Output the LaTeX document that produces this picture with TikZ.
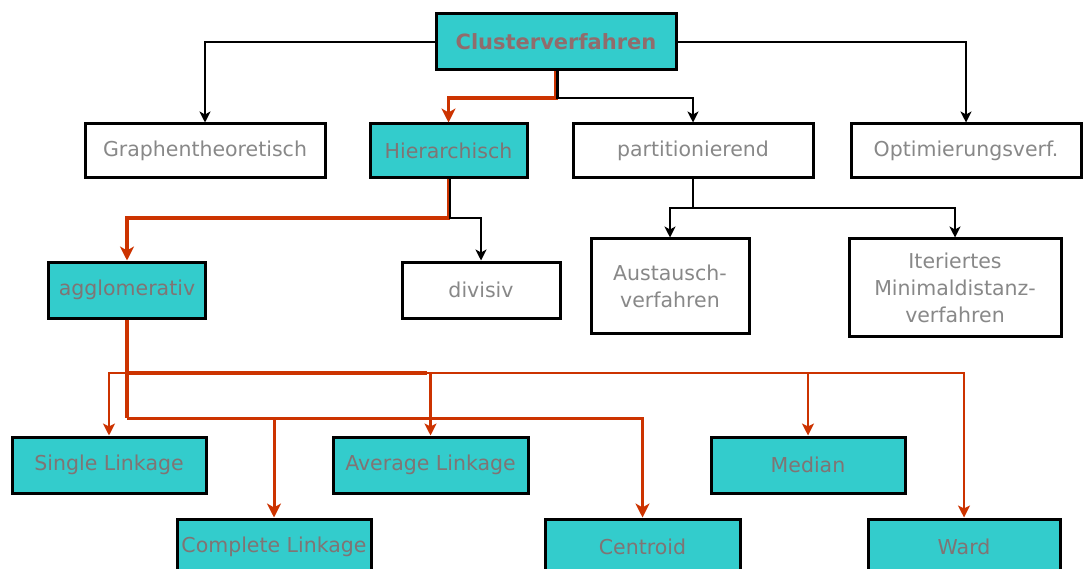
\documentclass[tikz,border=0pt]{standalone}
\usepackage{fontspec}
\setmainfont{DejaVu Sans}
\usetikzlibrary{arrows.meta}
\definecolor{boxcyan}{RGB}{51,204,204}
\definecolor{linered}{RGB}{204,51,0}
\definecolor{txtcyan}{RGB}{128,116,116}
\definecolor{txtwhite}{RGB}{136,136,136}
\definecolor{txtclu}{RGB}{145,108,108}
\begin{document}
\begin{tikzpicture}[x=1pt,y=-1pt,
  basebox/.style={draw=black,line width=3pt,rectangle,inner sep=0pt,
    font=\fontsize{20.5}{27}\selectfont,align=center},
  cybox/.style={basebox,fill=boxcyan,text=txtcyan},
  whbox/.style={basebox,fill=white,text=txtwhite},
  blk/.style={draw=black,line width=2.5pt,-{Stealth[length=11pt,width=11pt,inset=3pt]}},
  redthick/.style={draw=linered,line width=3.5pt,-{Stealth[length=14pt,width=14pt,inset=4pt]}},
  redthin/.style={draw=linered,line width=2.5pt,-{Stealth[length=12pt,width=12pt,inset=3pt]}}
]
\useasboundingbox (0,0) rectangle (1083,569);
\clip (0,0) rectangle (1083,569);

% nodes
\node[cybox,minimum width=240pt,minimum height=56pt,text=txtclu,font=\fontsize{21}{26}\selectfont\bfseries] (cl) at (556,42) {Clusterverfahren};
\node[whbox,minimum width=240pt,minimum height=54pt] (gr) at (205,151) {Graphentheoretisch};
\node[cybox,minimum width=157pt,minimum height=54pt] (hi) at (448.5,151) {Hierarchisch};
\node[whbox,minimum width=240pt,minimum height=54pt] (pa) at (693,151) {partitionierend};
\node[whbox,minimum width=230pt,minimum height=54pt] (op) at (966,151) {Optimierungsverf.};
\node[cybox,minimum width=157pt,minimum height=56pt] (ag) at (127,290) {agglomerativ};
\node[whbox,minimum width=158pt,minimum height=56pt] (di) at (481,290) {divisiv};
\node[whbox,minimum width=158pt,minimum height=94pt] (au) at (670,286) {Austausch-\\verfahren};
\node[whbox,minimum width=212pt,minimum height=97pt] (it) at (955,287.5) {Iteriertes\\Minimaldistanz-\\verfahren};
\node[cybox,minimum width=194pt,minimum height=56pt] (si) at (109,465) {Single Linkage};
\node[cybox,minimum width=195pt,minimum height=56pt] (av) at (430.5,465) {Average Linkage};
\node[cybox,minimum width=194pt,minimum height=56pt] (me) at (808,465) {Median};
\node[cybox,minimum width=194pt,minimum height=56pt] (co) at (274,547) {Complete Linkage};
\node[cybox,minimum width=195pt,minimum height=56pt] (ce) at (642.5,547) {Centroid};
\node[cybox,minimum width=192pt,minimum height=56pt] (wa) at (964,547) {Ward};

% junctions
\coordinate (j1) at (556,98);
\coordinate (j2) at (448.5,218);
\coordinate (j3) at (693,208);
\coordinate (j4) at (127,373);
\coordinate (j5) at (127,418);

% level 1
\draw[blk] (cl.west) -| (gr.north);
\draw[blk] (cl.east) -| (op.north);
\draw[redthick] (cl.south) -- (j1) -| (hi.north);
\draw[blk] ([xshift=1.5pt]cl.south) -- ([xshift=1.5pt]j1) -| (pa.north);

% level 2
\draw[redthick] (hi.south) -- (j2) -| (ag.north);
\draw[blk] ([xshift=1.5pt]hi.south) -- ([xshift=1.5pt]j2) -| (di.north);
\draw[blk] (pa.south) -- (j3) -| (au.north);
\draw[blk] (pa.south) -- (j3) -| (it.north);

% level 3
\draw[redthin] (j4) -| (si.north);
\draw[redthin] (j4) -| (av.north);
\draw[redthin] (j4) -| (me.north);
\draw[redthin] (j4) -| (wa.north);
\draw[redthick,line width=3pt] (j5) -| (ce.north);
\draw[redthick,line width=3pt] (j5) -| (co.north);
\draw[draw=linered,line width=4pt] (ag.south) -- (j5);
\draw[draw=linered,line width=4pt] (j4) -- ++(300,0) coordinate (j6);
\end{tikzpicture}
\end{document}
